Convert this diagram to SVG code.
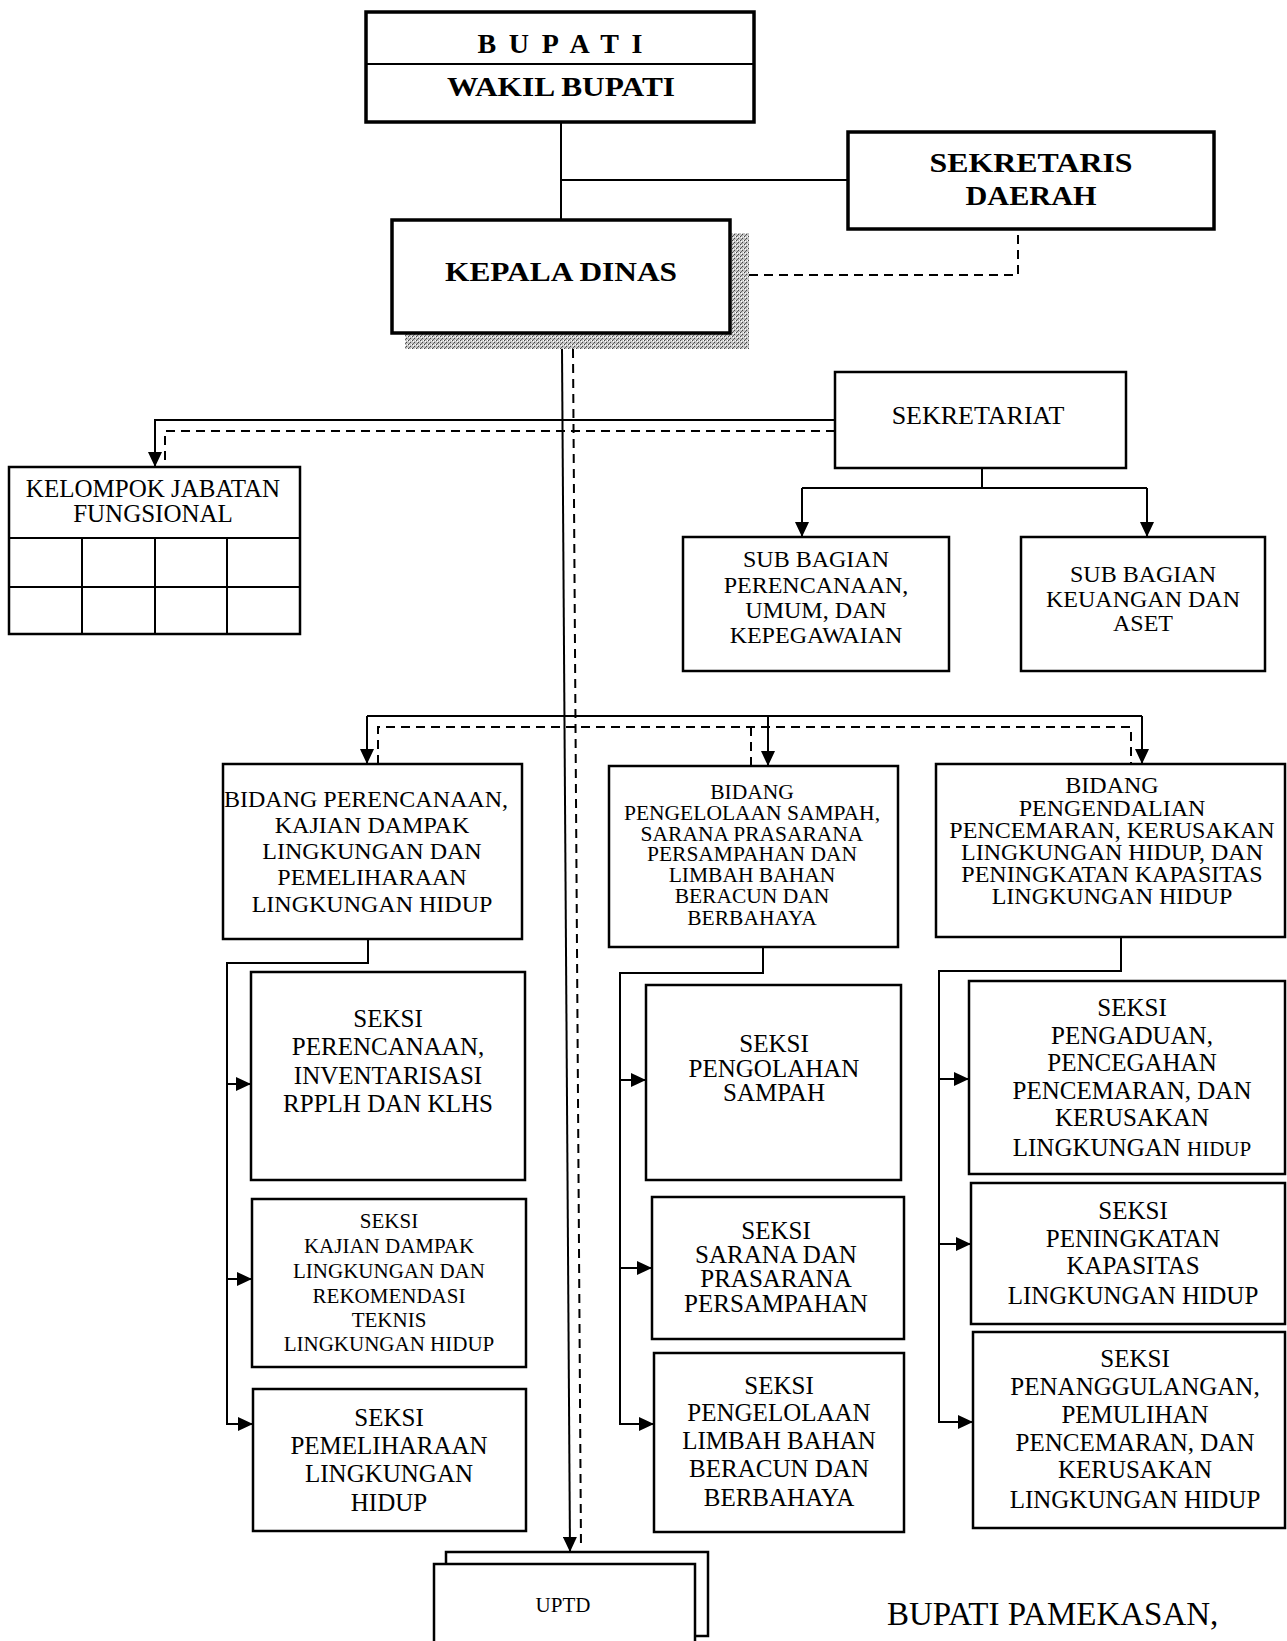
<svg xmlns="http://www.w3.org/2000/svg" width="1287" height="1641" viewBox="0 0 1287 1641">
<style>
.box{fill:#fff;stroke:#000;stroke-width:2.5}
.hb{fill:#fff;stroke:#000;stroke-width:3.5}
.ln{fill:none;stroke:#000;stroke-width:2}
.dl{fill:none;stroke:#000;stroke-width:2;stroke-dasharray:9 6}
.t{font-family:"Liberation Serif",serif;font-size:24px;text-anchor:middle;fill:#000}
.b{font-weight:bold}
.s21{font-size:21px}
.s22{font-size:21.5px}
.s25{font-size:25px}
.s26{font-size:26px}
.s28{font-size:28px}
.s33{font-size:33px}
</style>
<defs>
<marker id="ar" markerUnits="userSpaceOnUse" markerWidth="16" markerHeight="14" refX="15" refY="7" orient="auto">
<path d="M0,0 L15,7 L0,14 z" fill="#000"/>
</marker>
<pattern id="stip" width="4" height="4" patternUnits="userSpaceOnUse">
<rect width="4" height="4" fill="#c4c4c4"/>
<rect x="0" y="0" width="1" height="1" fill="#444"/>
<rect x="2" y="2" width="1" height="1" fill="#444"/>
<rect x="3" y="0" width="1" height="1" fill="#fff"/>
<rect x="1" y="3" width="1" height="1" fill="#666"/>
<rect x="1" y="1" width="1" height="1" fill="#fff"/>
</pattern>
</defs>
<rect width="1287" height="1641" fill="#fff"/>

<g id="connectors">
<line class="ln" x1="561" y1="122" x2="561" y2="220"/>
<line class="ln" x1="561" y1="180" x2="848" y2="180"/>
<polyline class="dl" points="749,275 1018,275 1018,229"/>
<line class="ln" x1="562" y1="349" x2="570" y2="1552" marker-end="url(#ar)"/>
<line class="dl" x1="573" y1="349" x2="581" y2="1548"/>
<polyline class="ln" points="835,420 155,420 155,467" marker-end="url(#ar)"/>
<polyline class="dl" points="835,431 165,431 165,467"/>
<line class="ln" x1="982" y1="468" x2="982" y2="488"/>
<line class="ln" x1="802" y1="488" x2="1147" y2="488"/>
<line class="ln" x1="802" y1="488" x2="802" y2="537" marker-end="url(#ar)"/>
<line class="ln" x1="1147" y1="488" x2="1147" y2="537" marker-end="url(#ar)"/>
<line class="ln" x1="367" y1="716" x2="1142" y2="716"/>
<line class="ln" x1="367" y1="716" x2="367" y2="764" marker-end="url(#ar)"/>
<line class="ln" x1="768" y1="716" x2="768" y2="766" marker-end="url(#ar)"/>
<line class="ln" x1="1142" y1="716" x2="1142" y2="764" marker-end="url(#ar)"/>
<polyline class="dl" points="378,764 378,727 1131,727 1131,764"/>
<line class="dl" x1="751" y1="727" x2="751" y2="766"/>
<polyline class="ln" points="368,939 368,963 227,963 227,1424"/>
<line class="ln" x1="227" y1="1084" x2="251" y2="1084" marker-end="url(#ar)"/>
<line class="ln" x1="227" y1="1279" x2="252" y2="1279" marker-end="url(#ar)"/>
<line class="ln" x1="226" y1="1424" x2="253" y2="1424" marker-end="url(#ar)"/>
<polyline class="ln" points="763,947 763,973 620,973 620,1424"/>
<line class="ln" x1="620" y1="1080" x2="646" y2="1080" marker-end="url(#ar)"/>
<line class="ln" x1="620" y1="1268" x2="652" y2="1268" marker-end="url(#ar)"/>
<line class="ln" x1="619" y1="1424" x2="654" y2="1424" marker-end="url(#ar)"/>
<polyline class="ln" points="1121,937 1121,971 939,971 939,1422"/>
<line class="ln" x1="939" y1="1079" x2="969" y2="1079" marker-end="url(#ar)"/>
<line class="ln" x1="939" y1="1244" x2="971" y2="1244" marker-end="url(#ar)"/>
<line class="ln" x1="938" y1="1422" x2="973" y2="1422" marker-end="url(#ar)"/>
</g>

<g id="n-bupati">
<rect class="hb" x="366" y="12" width="388" height="110"/>
<line class="ln" x1="366" y1="64" x2="754" y2="64"/>
<text class="t b s28" x="560" y="53" textLength="165" lengthAdjust="spacing">BUPATI</text>
<text class="t b s28" x="561" y="96" textLength="228" lengthAdjust="spacingAndGlyphs">WAKIL BUPATI</text>
</g>

<g id="n-kepala">
<path d="M730,233 H749 V349 H405 V333 H730 Z" fill="url(#stip)"/>
<rect class="hb" x="392" y="220" width="338" height="113"/>
<text class="t b s28" x="561" y="281" textLength="232" lengthAdjust="spacingAndGlyphs">KEPALA DINAS</text>
</g>

<g id="n-sekda">
<rect class="hb" x="848" y="132" width="366" height="97"/>
<text class="t b s28" x="1031" y="172" textLength="203" lengthAdjust="spacingAndGlyphs">SEKRETARIS</text>
<text class="t b s28" x="1031" y="205" textLength="131" lengthAdjust="spacingAndGlyphs">DAERAH</text>
</g>

<g id="n-sekretariat">
<rect class="box" x="835" y="372" width="291" height="96"/>
<text class="t s26" x="978" y="424">SEKRETARIAT</text>
</g>

<g id="n-kjf">
<rect class="box" x="9" y="467" width="291" height="167"/>
<line class="ln" x1="9" y1="538" x2="300" y2="538"/>
<line class="ln" x1="9" y1="587" x2="300" y2="587"/>
<line class="ln" x1="82" y1="538" x2="82" y2="634"/>
<line class="ln" x1="155" y1="538" x2="155" y2="634"/>
<line class="ln" x1="227" y1="538" x2="227" y2="634"/>
<text class="t s25" x="153" y="497">KELOMPOK JABATAN</text>
<text class="t s25" x="153" y="522">FUNGSIONAL</text>
</g>

<g id="n-sub1">
<rect class="box" x="683" y="537" width="266" height="134"/>
<text class="t"><tspan x="816" y="567">SUB BAGIAN</tspan><tspan x="816" y="593">PERENCANAAN,</tspan><tspan x="816" y="618">UMUM, DAN</tspan><tspan x="816" y="643">KEPEGAWAIAN</tspan></text>
</g>

<g id="n-sub2">
<rect class="box" x="1021" y="537" width="244" height="134"/>
<text class="t"><tspan x="1143" y="582">SUB BAGIAN</tspan><tspan x="1143" y="607">KEUANGAN DAN</tspan><tspan x="1143" y="631">ASET</tspan></text>
</g>

<g id="n-bid1">
<rect class="box" x="223" y="764" width="299" height="175"/>
<text class="t"><tspan x="366" y="807">BIDANG PERENCANAAN,</tspan><tspan x="372" y="833">KAJIAN DAMPAK</tspan><tspan x="372" y="859">LINGKUNGAN DAN</tspan><tspan x="372" y="885">PEMELIHARAAN</tspan><tspan x="372" y="912">LINGKUNGAN HIDUP</tspan></text>
</g>

<g id="n-bid2">
<rect class="box" x="609" y="766" width="289" height="181"/>
<text class="t s22"><tspan x="752" y="799">BIDANG</tspan><tspan x="752" y="820">PENGELOLAAN SAMPAH,</tspan><tspan x="752" y="841">SARANA PRASARANA</tspan><tspan x="752" y="861">PERSAMPAHAN DAN</tspan><tspan x="752" y="882">LIMBAH BAHAN</tspan><tspan x="752" y="903">BERACUN DAN</tspan><tspan x="752" y="925">BERBAHAYA</tspan></text>
</g>

<g id="n-bid3">
<rect class="box" x="936" y="764" width="349" height="173"/>
<text class="t"><tspan x="1112" y="793">BIDANG</tspan><tspan x="1112" y="816">PENGENDALIAN</tspan><tspan x="1112" y="838">PENCEMARAN, KERUSAKAN</tspan><tspan x="1112" y="860">LINGKUNGAN HIDUP, DAN</tspan><tspan x="1112" y="882">PENINGKATAN KAPASITAS</tspan><tspan x="1112" y="904">LINGKUNGAN HIDUP</tspan></text>
</g>

<g id="n-s1a">
<rect class="box" x="251" y="972" width="274" height="208"/>
<text class="t s25"><tspan x="388" y="1027">SEKSI</tspan><tspan x="388" y="1055">PERENCANAAN,</tspan><tspan x="388" y="1084">INVENTARISASI</tspan><tspan x="388" y="1112">RPPLH DAN KLHS</tspan></text>
</g>

<g id="n-s1b">
<rect class="box" x="252" y="1199" width="274" height="168"/>
<text class="t s21"><tspan x="389" y="1228">SEKSI</tspan><tspan x="389" y="1253">KAJIAN DAMPAK</tspan><tspan x="389" y="1278">LINGKUNGAN DAN</tspan><tspan x="389" y="1303">REKOMENDASI</tspan><tspan x="389" y="1327">TEKNIS</tspan><tspan x="389" y="1351">LINGKUNGAN HIDUP</tspan></text>
</g>

<g id="n-s1c">
<rect class="box" x="253" y="1389" width="273" height="142"/>
<text class="t s25"><tspan x="389" y="1426">SEKSI</tspan><tspan x="389" y="1454">PEMELIHARAAN</tspan><tspan x="389" y="1482">LINGKUNGAN</tspan><tspan x="389" y="1511">HIDUP</tspan></text>
</g>

<g id="n-s2a">
<rect class="box" x="646" y="985" width="255" height="195"/>
<text class="t s25"><tspan x="774" y="1052">SEKSI</tspan><tspan x="774" y="1077">PENGOLAHAN</tspan><tspan x="774" y="1101">SAMPAH</tspan></text>
</g>

<g id="n-s2b">
<rect class="box" x="652" y="1197" width="252" height="142"/>
<text class="t s25"><tspan x="776" y="1239">SEKSI</tspan><tspan x="776" y="1263">SARANA DAN</tspan><tspan x="776" y="1287">PRASARANA</tspan><tspan x="776" y="1312">PERSAMPAHAN</tspan></text>
</g>

<g id="n-s2c">
<rect class="box" x="654" y="1353" width="250" height="179"/>
<text class="t s25"><tspan x="779" y="1394">SEKSI</tspan><tspan x="779" y="1421">PENGELOLAAN</tspan><tspan x="779" y="1449">LIMBAH BAHAN</tspan><tspan x="779" y="1477">BERACUN DAN</tspan><tspan x="779" y="1506">BERBAHAYA</tspan></text>
</g>

<g id="n-s3a">
<rect class="box" x="969" y="981" width="316" height="193"/>
<text class="t s25"><tspan x="1132" y="1016">SEKSI</tspan><tspan x="1132" y="1044">PENGADUAN,</tspan><tspan x="1132" y="1071">PENCEGAHAN</tspan><tspan x="1132" y="1099">PENCEMARAN, DAN</tspan><tspan x="1132" y="1126">KERUSAKAN</tspan><tspan x="1132" y="1156">LINGKUNGAN <tspan style="font-size:21px">HIDUP</tspan></tspan></text>
</g>

<g id="n-s3b">
<rect class="box" x="971" y="1183" width="314" height="141"/>
<text class="t s25"><tspan x="1133" y="1219">SEKSI</tspan><tspan x="1133" y="1247">PENINGKATAN</tspan><tspan x="1133" y="1274">KAPASITAS</tspan><tspan x="1133" y="1304">LINGKUNGAN HIDUP</tspan></text>
</g>

<g id="n-s3c">
<rect class="box" x="973" y="1332" width="312" height="196"/>
<text class="t s25"><tspan x="1135" y="1367">SEKSI</tspan><tspan x="1135" y="1395">PENANGGULANGAN,</tspan><tspan x="1135" y="1423">PEMULIHAN</tspan><tspan x="1135" y="1451">PENCEMARAN, DAN</tspan><tspan x="1135" y="1478">KERUSAKAN</tspan><tspan x="1135" y="1508">LINGKUNGAN HIDUP</tspan></text>
</g>

<g id="n-uptd">
<rect class="box" x="446" y="1552" width="262" height="84"/>
<rect class="box" x="434" y="1564" width="261" height="90"/>
<text class="t s21" x="563" y="1612">UPTD</text>
</g>

<text class="t s33" x="887" y="1625" style="text-anchor:start">BUPATI PAMEKASAN,</text>
</svg>
